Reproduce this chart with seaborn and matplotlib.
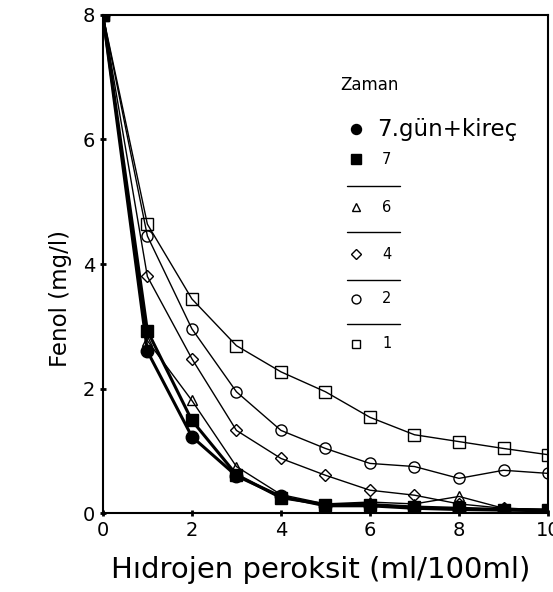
import numpy as np
import pandas as pd
import matplotlib
matplotlib.use("Agg")
import matplotlib.pyplot as plt
import seaborn as sns
from matplotlib.lines import Line2D

# ---- data ----
x_vals = [0, 1, 2, 3, 4, 5, 6, 7, 8, 9, 10]
s_kirec = [8.0, 2.60, 1.23, 0.60, 0.27, 0.12, 0.12, 0.08, 0.06, 0.05, 0.04]
s_7 = [8.0, 2.93, 1.49, 0.62, 0.25, 0.14, 0.14, 0.10, 0.08, 0.06, 0.05]
s_6 = [8.0, 2.77, 1.81, 0.75, 0.30, 0.15, 0.18, 0.15, 0.27, 0.08, 0.06]
s_4 = [8.0, 3.80, 2.48, 1.33, 0.88, 0.61, 0.37, 0.29, 0.15, 0.08, 0.06]
s_2 = [8.0, 4.45, 2.96, 1.95, 1.33, 1.04, 0.80, 0.75, 0.56, 0.69, 0.64]
s_1 = [8.0, 4.64, 3.44, 2.69, 2.27, 1.95, 1.54, 1.26, 1.15, 1.04, 0.94]
labels = ["7.gün+kireç", "7", "6", "4", "2", "1"]
legend_title = "Zaman"
x_ticks = [0, 2, 4, 6, 8, 10]
y_ticks = [0, 2, 4, 6, 8]

series = [s_kirec, s_7, s_6, s_4, s_2, s_1]
markers = ["o", "s", "^", "D", "o", "s"]
filled = [True, True, False, False, False, False]
msizes = [9, 8.5, 7, 6, 8, 8]
lws = [2.2, 2.2, 1.0, 1.0, 1.0, 1.0]

df = pd.concat([pd.DataFrame({"x": x_vals, "y": s, "Zaman": lab})
                for s, lab in zip(series, labels)], ignore_index=True)

sns.set_style("ticks")
plt.rcParams["font.family"] = ["DejaVu Sans"]
plt.rcParams["text.color"] = "black"
plt.rcParams["axes.labelcolor"] = "black"
plt.rcParams["xtick.color"] = "black"
plt.rcParams["ytick.color"] = "black"

fig = plt.figure(figsize=(5.53, 5.92), dpi=100)
ax = fig.add_axes([0.186, 0.133, 0.805, 0.842])

for lab, m, f, ms, lw in zip(labels, markers, filled, msizes, lws):
    sub = df[df["Zaman"] == lab]
    sns.lineplot(data=sub, x="x", y="y", ax=ax, color="black", lw=lw,
                 marker=m, markersize=ms,
                 markerfacecolor="black" if f else "none",
                 markeredgecolor="black", markeredgewidth=1.0,
                 legend=False, zorder=3 if f else 2)

ax.set_xlim(0, 10)
ax.set_ylim(0, 8)
ax.set_xticks(x_ticks)
ax.set_yticks(y_ticks)
ax.tick_params(direction="inout", length=5, width=2, labelsize=14, pad=3,
               colors="black")
for sp in ax.spines.values():
    sp.set_linewidth(1.5)
    sp.set_color("black")
ax.set_xlabel("Hıdrojen peroksit (ml/100ml)", fontsize=21)
ax.set_ylabel("Fenol (mg/l)", fontsize=16.5)
ax.xaxis.set_label_coords(0.49, -0.085)
ax.yaxis.set_label_coords(-0.07, 0.43)

# ---- legend (SPSS style, with separator lines) ----
ax.text(0.533, 0.86, legend_title, transform=ax.transAxes, fontsize=12,
        va="center", ha="left")
leg_y = [0.77, 0.71, 0.614, 0.52, 0.43, 0.34]
sep_y = [0.656, 0.564, 0.468, 0.38]
for i, (lab, m, f, ms) in enumerate(zip(labels, markers, filled, msizes)):
    ax.add_line(Line2D([0.569], [leg_y[i]], transform=ax.transAxes,
                       ls="none", marker=m, color="black",
                       markerfacecolor="black" if f else "none",
                       markersize=ms * 0.8, markeredgewidth=1.0,
                       clip_on=False))
    ax.text(0.615 if i == 0 else 0.627, leg_y[i], lab, transform=ax.transAxes,
            fontsize=16.5 if i == 0 else 10.5, va="center", ha="left")
for y in sep_y:
    ax.add_line(Line2D([0.548, 0.667], [y, y], transform=ax.transAxes,
                       color="black", lw=1.0))

fig.savefig("out.png", dpi=100)
